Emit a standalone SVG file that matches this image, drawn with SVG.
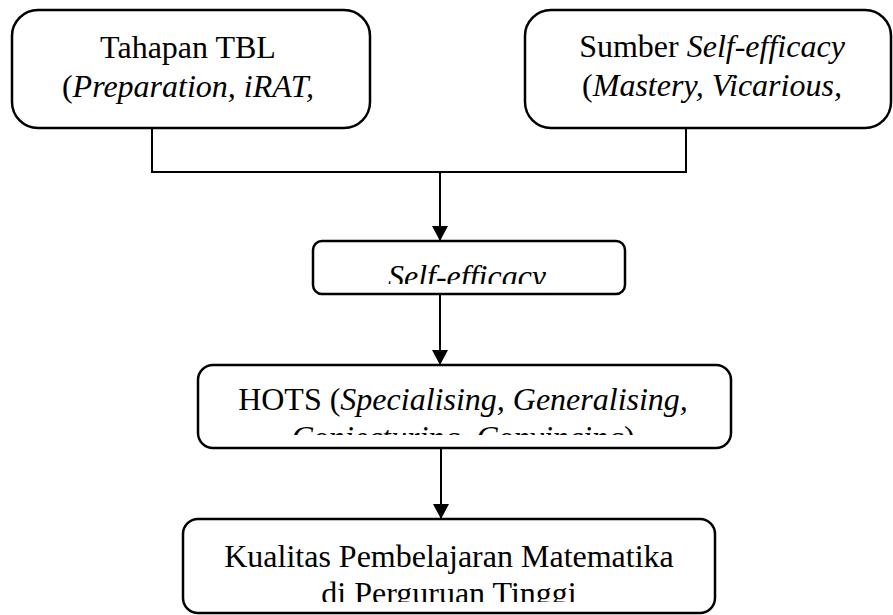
<svg xmlns="http://www.w3.org/2000/svg" width="893" height="615" viewBox="0 0 893 615">
<defs>
<style>
.box{fill:#fff;stroke:#000;stroke-width:2.5}
.t{font-family:"Liberation Serif","Times New Roman",serif;font-size:32px;fill:#000;text-anchor:middle}
.i{font-style:italic}
.c{fill:none;stroke:#000;stroke-width:2}
</style>
<marker id="ah" markerUnits="userSpaceOnUse" markerWidth="15" markerHeight="16" refX="15" refY="8" orient="auto">
<path d="M0,0 L15,8 L0,16 Z" fill="#000"/>
</marker>
<clipPath id="c1"><rect x="12" y="10" width="358" height="100"/></clipPath>
<clipPath id="c2"><rect x="525" y="10" width="366" height="100"/></clipPath>
<clipPath id="c3"><rect x="313" y="241" width="312" height="43"/></clipPath>
<clipPath id="c4"><rect x="198" y="365" width="533" height="70"/></clipPath>
<clipPath id="c5"><rect x="183" y="519" width="532" height="83"/></clipPath>
</defs>
<rect width="893" height="615" fill="#fff"/>
<g id="connectors">
<polyline class="c" points="152,129 152,172 686,172 686,129"/>
<line class="c" x1="440" y1="172" x2="440" y2="241" marker-end="url(#ah)"/>
<line class="c" x1="440" y1="294" x2="440" y2="365" marker-end="url(#ah)"/>
<line class="c" x1="441" y1="448" x2="441" y2="519" marker-end="url(#ah)"/>
</g>
<g id="node-tbl">
<rect class="box" x="12" y="10" width="358" height="118" rx="26"/>
<g clip-path="url(#c1)">
<text class="t" x="188" y="58">Tahapan TBL</text>
<text class="t" x="188" y="97">(<tspan class="i">Preparation, iRAT,</tspan></text>
</g>
</g>
<g id="node-sumber">
<rect class="box" x="525" y="10" width="366" height="118" rx="26"/>
<g clip-path="url(#c2)">
<text class="t" x="712" y="57">Sumber <tspan class="i">Self-efficacy</tspan></text>
<text class="t" x="712" y="96">(<tspan class="i">Mastery, Vicarious,</tspan></text>
</g>
</g>
<g id="node-selfefficacy">
<rect class="box" x="313" y="241" width="312" height="53" rx="9"/>
<g clip-path="url(#c3)">
<text class="t i" x="467" y="287">Self-efficacy</text>
</g>
</g>
<g id="node-hots">
<rect class="box" x="198" y="365" width="533" height="83" rx="15"/>
<g clip-path="url(#c4)">
<text class="t" x="463" y="410">HOTS (<tspan class="i">Specialising, Generalising,</tspan></text>
<text class="t" x="463" y="448"><tspan class="i">Conjecturing, Convincing</tspan>)</text>
</g>
</g>
<g id="node-kualitas">
<rect class="box" x="183" y="519" width="532" height="94" rx="15"/>
<g clip-path="url(#c5)">
<text class="t" x="449" y="567">Kualitas Pembelajaran Matematika</text>
<text class="t" x="449" y="604">di Perguruan Tinggi</text>
</g>
</g>
</svg>
